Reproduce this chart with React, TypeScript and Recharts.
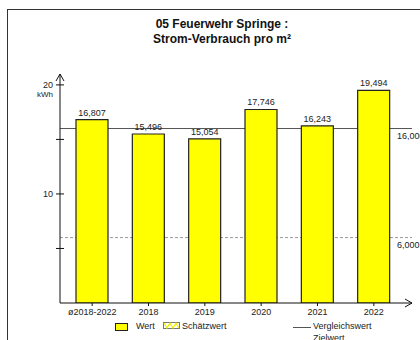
import React from "react";
import { BarChart, Bar, XAxis, YAxis, ReferenceLine, LabelList } from "recharts";

const categories = ["ø2018-2022", "2018", "2019", "2020", "2021", "2022"];
const values = [16.807, 15.496, 15.054, 17.746, 16.243, 19.494];
const vergleichswert = 16.0;
const zielwert = 6.0;
const yTicks = [0, 5, 10, 15, 20];
const yLabels = [10, 20];

const data = categories.map((c, i) => ({ name: c, wert: values[i] }));

const font = "'Liberation Sans', Arial, sans-serif";
const fmt = (v: number) => v.toFixed(3).replace(".", ",");

const YTick = (props: any) => {
  const { x, y, payload } = props;
  const v = payload.value;
  if (v === 0) return null;
  return (
    <g>
      <line x1={x - 4} x2={x + 4} y1={y} y2={y} stroke="#111" strokeWidth={1} />
      {yLabels.includes(v) && (
        <text x={x - 7} y={y + 3} textAnchor="end" fontSize={9} fill="#222" fontFamily={font}>
          {v}
        </text>
      )}
      {v === 20 && (
        <text x={x - 7} y={y + 12} textAnchor="end" fontSize={8} fill="#222" fontFamily={font}>
          kWh
        </text>
      )}
    </g>
  );
};

const YArrow = (props: any) => {
  const { viewBox } = props;
  const ax = viewBox.x + viewBox.width;
  const ay = viewBox.y;
  return (
    <path d={`M${ax - 4},${ay + 7} L${ax},${ay} L${ax + 4},${ay + 7}`} fill="none" stroke="#111" strokeWidth={1} />
  );
};

const XArrow = (props: any) => {
  const { viewBox } = props;
  const ax = viewBox.x + viewBox.width;
  const ay = viewBox.y;
  return (
    <path d={`M${ax - 7},${ay - 4} L${ax},${ay} L${ax - 7},${ay + 4}`} fill="none" stroke="#111" strokeWidth={1} />
  );
};

const RefLabel = (props: any) => {
  const { viewBox, text } = props;
  return (
    <text x={viewBox.x + viewBox.width - 15} y={viewBox.y + 10} fontSize={9} fill="#222" fontFamily={font}>
      {text}
    </text>
  );
};

const legendText: React.CSSProperties = { fontSize: 9, color: "#222", fontFamily: font, position: "absolute" };

export default function App() {
  return (
    <div style={{ position: "absolute", left: 0, top: 0, width: 420, height: 340, overflow: "hidden", background: "#fff" }}>
      <div style={{ position: "absolute", left: 7, top: 9, width: 440, height: 360, border: "1px solid #333" }} />
      <div
        style={{
          position: "absolute",
          left: 7,
          width: 430,
          top: 17,
          textAlign: "center",
          fontFamily: font,
          fontWeight: "bold",
          fontSize: 12,
          lineHeight: "15px",
          color: "#111",
        }}
      >
        05 Feuerwehr Springe :<br />
        Strom-Verbrauch pro m²
      </div>
      <div style={{ position: "absolute", left: 0, top: 0 }}>
        <BarChart width={420} height={340} data={data} margin={{ top: 74, right: 8, bottom: 7, left: 0 }} barSize={32}>
          <ReferenceLine
            y={vergleichswert}
            stroke="#555"
            strokeWidth={1}
            zIndex={100}
            label={<RefLabel text={fmt(vergleichswert)} />}
          />
          <ReferenceLine
            y={zielwert}
            stroke="#999"
            strokeWidth={1}
            strokeDasharray="3 2"
            zIndex={100}
            label={<RefLabel text={fmt(zielwert)} />}
          />
          <Bar dataKey="wert" fill="#ffff00" stroke="#222" strokeWidth={1.2} isAnimationActive={false}>
            <LabelList
              dataKey="wert"
              position="top"
              offset={4}
              formatter={(v: any) => fmt(Number(v))}
              style={{ fontSize: 9, fill: "#222", fontFamily: font }}
            />
          </Bar>
          <YAxis
            width={60}
            domain={[0, 21]}
            ticks={yTicks}
            interval={0}
            tickSize={0}
            tickMargin={0}
            tickLine={false}
            tick={<YTick />}
            axisLine={{ stroke: "#111" }}
            allowDataOverflow
            label={<YArrow />}
          />
          <XAxis
            dataKey="name"
            height={30}
            padding={{ left: 4, right: 10 }}
            tickSize={3}
            tickMargin={3}
            interval={0}
            tick={{ fontSize: 9, fill: "#222", fontFamily: font }}
            tickLine={{ stroke: "#111" }}
            axisLine={{ stroke: "#111" }}
            label={<XArrow />}
          />
        </BarChart>
      </div>
      {/* legend */}
      <div style={{ position: "absolute", left: 115, top: 323, width: 11, height: 6, background: "#ffff00", border: "1px solid #222" }} />
      <div style={{ ...legendText, left: 136, top: 321 }}>Wert</div>
      <svg style={{ position: "absolute", left: 163, top: 322 }} width={18} height={8}>
        <rect x={0.5} y={0.5} width={16} height={6} fill="#fff" stroke="#777" />
        <polyline points="1,1 4,6 7,1 10,6 13,1 16,6" fill="none" stroke="#eeee00" strokeWidth={1.2} />
      </svg>
      <div style={{ ...legendText, left: 182, top: 321 }}>Schätzwert</div>
      <div style={{ position: "absolute", left: 293, top: 327, width: 18, height: 1, background: "#555" }} />
      <div style={{ ...legendText, left: 313, top: 321 }}>Vergleichswert</div>
      <div style={{ ...legendText, left: 313, top: 333 }}>Zielwert</div>
    </div>
  );
}
